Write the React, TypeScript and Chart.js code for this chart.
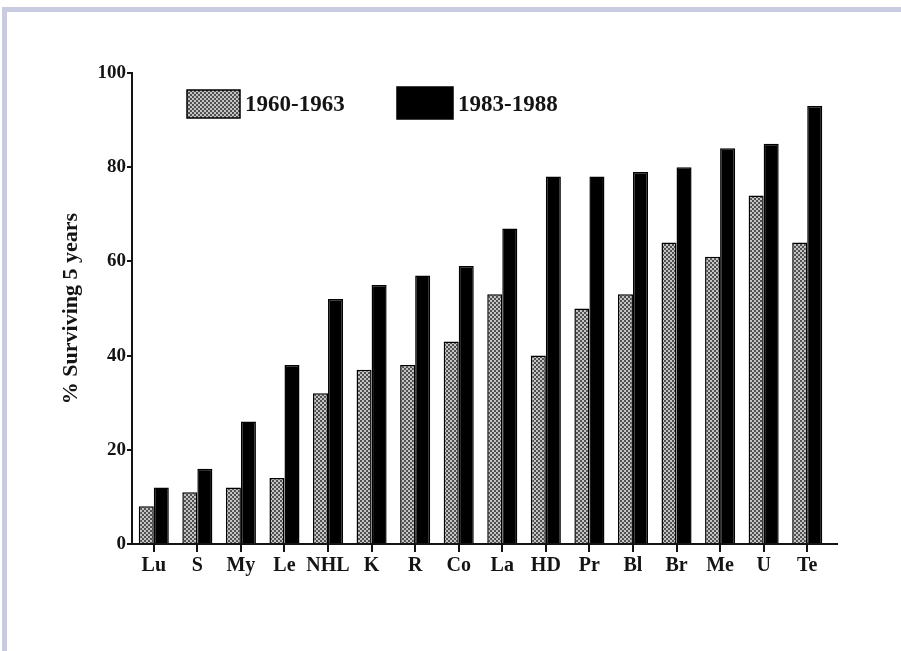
import React, { useEffect, useRef } from "react";
import { Chart, registerables } from "chart.js";

Chart.register(...registerables);

const categories = ["Lu", "S", "My", "Le", "NHL", "K", "R", "Co", "La", "HD", "Pr", "Bl", "Br", "Me", "U", "Te"];
const series1960 = [8, 11, 12, 14, 32, 37, 38, 43, 53, 40, 50, 53, 64, 61, 74, 64];
const series1983 = [12, 16, 26, 38, 52, 55, 57, 59, 67, 78, 78, 79, 80, 84, 85, 93];
const seriesLabels = ["1960-1963", "1983-1988"];
const yMin = 0;
const yMax = 100;
const yStep = 20;
const yTitle = "% Surviving 5 years";

const FONT = '"Liberation Serif", "Times New Roman", serif';
const INK = "#141414";

function makePattern(): CanvasPattern | string {
  const c = document.createElement("canvas");
  c.width = 4;
  c.height = 4;
  const g = c.getContext("2d");
  if (!g) return "#888";
  g.fillStyle = "#c4c4c4";
  g.fillRect(0, 0, 4, 4);
  g.fillStyle = "#505050";
  g.fillRect(0, 0, 2, 2);
  g.fillRect(2, 2, 2, 2);
  const p = g.createPattern(c, "repeat");
  return p || "#888";
}

const extras = {
  id: "extras",
  afterDraw(chart: any) {
    const { ctx, chartArea } = chart;
    ctx.save();
    // x-axis line extends a little past the last category
    ctx.strokeStyle = INK;
    ctx.lineWidth = 2;
    ctx.beginPath();
    ctx.moveTo(chartArea.right - 1, chartArea.bottom);
    ctx.lineTo(chartArea.right + 9, chartArea.bottom);
    ctx.stroke();

    // legend inside plot area
    const boxes = [
      { dx: 55, dy: 17, w: 53, h: 28, tx: 113 },
      { dx: 265, dy: 14, w: 56, h: 32, tx: 326 },
    ];
    chart.data.datasets.forEach((ds: any, i: number) => {
      const b = boxes[i];
      const x = chartArea.left + b.dx;
      const y = chartArea.top + b.dy;
      ctx.fillStyle = ds.backgroundColor;
      ctx.fillRect(x, y, b.w, b.h);
      ctx.strokeStyle = "#000";
      ctx.lineWidth = 1.5;
      ctx.strokeRect(x, y, b.w, b.h);
      ctx.fillStyle = INK;
      ctx.font = `bold 23px ${FONT}`;
      ctx.textBaseline = "middle";
      ctx.textAlign = "left";
      ctx.fillText(ds.label, chartArea.left + b.tx, chartArea.top + 32);
    });
    ctx.restore();
  },
};

export default function App() {
  const ref = useRef<HTMLCanvasElement | null>(null);

  useEffect(() => {
    if (!ref.current) return;
    const pattern = makePattern();
    const chart = new Chart(ref.current, {
      type: "bar",
      data: {
        labels: categories,
        datasets: [
          {
            label: seriesLabels[0],
            data: series1960,
            backgroundColor: pattern as any,
            borderColor: "#000",
            borderWidth: 1.5,
            categoryPercentage: 0.69,
            barPercentage: 1.0,
          },
          {
            label: seriesLabels[1],
            data: series1983,
            backgroundColor: "#000",
            borderColor: "#000",
            borderWidth: 1.5,
            categoryPercentage: 0.69,
            barPercentage: 1.0,
          },
        ],
      },
      options: {
        responsive: false,
        animation: false,
        layout: { padding: { top: 73, right: 72, bottom: 0, left: 0 } },
        plugins: {
          legend: { display: false },
          tooltip: { enabled: false },
        },
        scales: {
          x: {
            grid: {
              offset: false,
              drawOnChartArea: false,
              drawTicks: true,
              tickLength: 8,
              color: INK,
              lineWidth: 2,
            },
            border: { display: true, color: INK, width: 2 },
            ticks: {
              color: INK,
              padding: 2,
              font: { family: FONT, weight: "bold", size: 20 },
              maxRotation: 0,
              autoSkip: false,
            },
            afterFit(scale: any) {
              scale.height = 107;
            },
          },
          y: {
            min: yMin,
            max: yMax,
            grid: {
              drawOnChartArea: false,
              drawTicks: true,
              tickLength: 5,
              color: INK,
              lineWidth: 2,
            },
            border: { display: true, color: INK, width: 2 },
            ticks: {
              stepSize: yStep,
              color: INK,
              padding: 1,
              font: { family: FONT, weight: "bold", size: 19 },
            },
            title: {
              display: true,
              text: yTitle,
              color: INK,
              font: { family: FONT, weight: "bold", size: 22 },
              padding: { top: 58, bottom: 0 },
            },
            afterFit(scale: any) {
              scale.width = 132;
            },
          },
        },
      },
      plugins: [extras],
    });
    return () => chart.destroy();
  }, []);

  return (
    <div style={{ position: "fixed", left: 0, top: 0, width: 901, height: 651, background: "#fff", overflow: "hidden" }}>
      <div style={{ position: "absolute", left: 2, top: 7, width: 899, height: 5, background: "#c9cce0" }} />
      <div style={{ position: "absolute", left: 2, top: 7, width: 5, height: 644, background: "#c9cce0" }} />
      <canvas ref={ref} width={901} height={651} style={{ position: "absolute", left: 0, top: 0 }} />
    </div>
  );
}
